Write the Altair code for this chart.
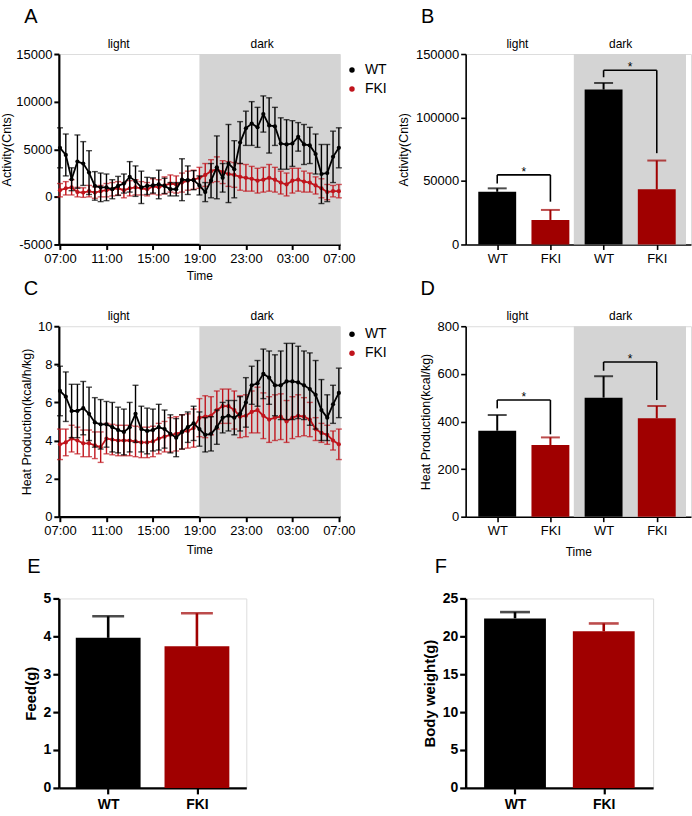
import altair as alt
import pandas as pd

FONT = "Liberation Sans"
BLACK = "#000000"
RED_LINE = "#c0141c"
RED_BAR = "#a00000"
SHADE = "#d4d4d4"

# ---------------- data ----------------
hours = [i * 0.5 for i in range(49)]  # 07:00 -> 07:00 next day, 30-min bins

act_wt = [5150, 4400, 1850, 3700, 3500, 2550, 1150, 1000, 1000, 800, 1150, 1400,
          2100, 1650, 1000, 1150, 1200, 1300, 1150, 800, 800, 1800, 1750, 1750,
          1200, 500, 1700, 3100, 2000, 3500, 2900, 5700, 7200, 7700, 7300, 8700,
          7500, 7400, 5600, 5500, 5600, 6300, 5500, 5400, 4500, 2400, 2500, 4200, 5150]
act_wt_err = [2100, 2200, 1200, 2800, 2300, 2300, 1500, 1500, 1400, 1000, 1000, 1000,
              1600, 1600, 1700, 900, 800, 1500, 800, 700, 700, 2200, 1500, 1000,
              1000, 1000, 1800, 3300, 1500, 4100, 3000, 2200, 1800, 2300, 2100, 1900,
              2900, 2000, 2700, 2600, 2400, 1500, 2100, 1900, 2100, 3100, 3000, 2700, 2100]
act_fki = [700, 900, 1000, 500, 450, 600, 450, 600, 700, 800, 900, 700,
           900, 1000, 900, 800, 1100, 1000, 1200, 1400, 1300, 1500, 1700, 1800,
           2000, 2300, 2700, 2900, 2600, 2400, 2300, 2100, 2000, 1900, 1700, 1800,
           2000, 1800, 1500, 1300, 1700, 1800, 1600, 1500, 1200, 900, 500, 600, 600]
act_fki_err = [700, 700, 800, 500, 500, 600, 600, 600, 700, 700, 700, 800,
               800, 800, 700, 700, 800, 800, 900, 900, 900, 1000, 1000, 1000,
               1100, 1200, 1200, 1300, 1200, 1300, 1300, 1400, 1400, 1300, 1300, 1300,
               1400, 1300, 1200, 1200, 1300, 1200, 1100, 1000, 900, 1000, 800, 600, 700]

heat_wt = [6.6, 6.3, 5.55, 5.55, 5.7, 5.4, 4.95, 4.85, 4.85, 4.7, 4.55, 4.45,
           4.7, 5.4, 4.6, 4.5, 4.55, 4.7, 4.6, 4.35, 4.15, 4.45, 4.7, 4.9,
           4.6, 4.3, 4.35, 4.7, 5.2, 5.3, 5.2, 5.4, 6.0, 6.9, 7.0, 7.5,
           7.3, 6.9, 6.9, 7.1, 7.1, 7.05, 6.9, 6.7, 6.4, 5.6, 5.2, 5.9, 6.5]
heat_wt_err = [1.3, 1.3, 1.4, 1.4, 1.4, 1.4, 1.3, 1.3, 1.2, 1.3, 1.2, 1.2,
               1.3, 1.5, 1.2, 1.2, 1.1, 1.2, 1.0, 1.0, 1.0, 0.9, 0.8, 0.9,
               0.9, 0.9, 0.9, 0.9, 0.8, 0.8, 0.9, 0.9, 1.3, 1.0, 1.2, 1.3,
               1.4, 1.6, 1.8, 2.0, 2.0, 1.9, 1.8, 1.9, 1.8, 1.6, 1.2, 1.0, 1.3]
heat_fki = [3.8, 3.9, 4.1, 4.0, 3.85, 3.85, 3.75, 3.65, 4.1, 4.05, 4.0, 4.0,
            4.0, 3.95, 3.9, 3.9, 3.95, 4.1, 4.2, 4.3, 4.35, 4.45, 4.5, 4.65,
            5.2, 5.25, 5.3, 5.6, 5.8, 5.8, 5.6, 5.25, 5.3, 5.5, 5.6, 5.3,
            5.1, 5.2, 5.25, 5.0, 5.2, 5.3, 5.25, 5.1, 4.6, 4.4, 4.3, 4.0, 3.8]
heat_fki_err = [0.8, 0.7, 0.7, 0.7, 0.7, 0.7, 0.7, 0.8, 0.8, 0.8, 0.8, 0.8,
                0.8, 0.8, 0.8, 0.8, 0.8, 0.8, 0.8, 0.9, 0.9, 0.9, 0.9, 1.0,
                1.0, 1.1, 1.0, 1.0, 0.9, 0.9, 1.0, 1.1, 1.1, 1.1, 1.2, 1.2,
                1.2, 1.2, 1.2, 1.1, 1.1, 1.1, 1.0, 0.9, 0.6, 0.5, 0.5, 0.5, 0.8]

bar_groups = ["WT", "FKI", "WT", "FKI"]
bar_phases = ["light", "light", "dark", "dark"]
act_bar = [41500, 19300, 122000, 43400]
act_bar_err = [2700, 7900, 5200, 22700]
act_sig_level = [54800, 137200]
act_sig_left = [48000, 131700]
act_sig_right = [33700, 71900]

heat_bar = [361, 301, 500, 413]
heat_bar_err = [66, 32, 90, 52]
heat_sig_level = [490, 650]
heat_sig_left = [455, 613]
heat_sig_right = [346, 490]

two_groups = ["WT", "FKI"]
feed = [3.96, 3.74]
feed_err = [0.57, 0.87]
body_weight = [22.37, 20.66]
body_weight_err = [0.83, 1.04]


def ax(**kw):
    base = dict(labelFont=FONT, titleFont=FONT, labelColor=BLACK, titleColor=BLACK,
                domainColor=BLACK, tickColor=BLACK, grid=False)
    base.update(kw)
    return alt.Axis(**base)


def text_layer(txt, size, x, y, align="center", weight="normal", baseline="middle"):
    return alt.Chart(pd.DataFrame({"t": [txt]})).mark_text(
        fontSize=size, font=FONT, align=align, baseline=baseline, fontWeight=weight,
        color=BLACK).encode(text="t:N", x=x, y=y)


def ts_panel(wt, wt_err, fki, fki_err, ydom, yvals, ytitle, letter, legend_y,
             ytitle_pad, xtitle_pad):
    xs = alt.Scale(domain=[-0.1, 24.1], nice=False, zero=False)
    ys = alt.Scale(domain=ydom, nice=False, zero=False)
    xaxis = ax(values=[0, 4, 8, 12, 16, 20, 24],
               labelExpr="(((datum.value + 7) % 24) < 10 ? '0' : '') + ((datum.value + 7) % 24) + ':00'",
               title="Time", titleFontSize=12, titleFontWeight="normal", labelFontSize=13,
               domainWidth=2.2, tickWidth=2, tickSize=5, labelPadding=3, titlePadding=xtitle_pad,
               labelFlush=False)
    yaxis = ax(values=yvals, labelExpr="'' + datum.value", title=ytitle,
               titleFontSize=12.5, titleFontWeight="normal", labelFontSize=13,
               domainWidth=2.2, tickWidth=2, tickSize=5, labelPadding=2, titlePadding=ytitle_pad)

    def X(f):
        return alt.X(f, type="quantitative", scale=xs, axis=xaxis)

    def Y(f):
        return alt.Y(f, type="quantitative", scale=ys, axis=yaxis)

    shade_df = pd.DataFrame({"x0": [12], "x1": [24.1], "y0": [ydom[0]], "y1": [ydom[1]]})
    layers = [alt.Chart(shade_df).mark_rect(color=SHADE).encode(
        x=X("x0"), x2="x1", y=Y("y0"), y2="y1")]

    for vals, errs, col in [(fki, fki_err, RED_LINE), (wt, wt_err, BLACK)]:
        df = pd.DataFrame({"hour": hours, "value": vals,
                           "lo": [v - e for v, e in zip(vals, errs)],
                           "hi": [v + e for v, e in zip(vals, errs)]})
        base = alt.Chart(df)
        layers += [
            base.mark_rule(color=col, strokeWidth=1.4).encode(x=X("hour"), y=Y("lo"), y2="hi"),
            base.mark_tick(color=col, orient="horizontal", size=6, thickness=1.4).encode(x=X("hour"), y=Y("hi")),
            base.mark_tick(color=col, orient="horizontal", size=6, thickness=1.4).encode(x=X("hour"), y=Y("lo")),
            base.mark_line(color=col, strokeWidth=1.8).encode(x=X("hour"), y=Y("value")),
            base.mark_circle(color=col, size=18, opacity=1).encode(x=X("hour"), y=Y("value")),
        ]

    phase_df = pd.DataFrame({"label": ["light", "dark"], "pos": [5.05, 17.4]})
    layers.append(alt.Chart(phase_df).mark_text(fontSize=12, font=FONT, color=BLACK, baseline="middle").encode(
        x=X("pos"), y=alt.value(-10), text="label:N"))

    # legend
    for name, col, dy in [("WT", BLACK, 0), ("FKI", RED_LINE, 19)]:
        layers.append(alt.Chart(pd.DataFrame({"t": [name]})).mark_circle(color=col, size=30, opacity=1).encode(
            x=alt.value(294), y=alt.value(legend_y + dy)))
        layers.append(text_layer(name, 14, alt.value(307), alt.value(legend_y + dy), align="left"))

    layers.append(text_layer(letter, 20, alt.value(-28), alt.value(-37)))
    return alt.layer(*layers).properties(width=282, height=191)


def bar_panel(vals, errs, sig_level, sig_left, sig_right, ydom, yvals, ytitle, letter, xtitle):
    xs = alt.Scale(domain=[0.5, 4.55], nice=False, zero=False)
    ys = alt.Scale(domain=ydom, nice=False, zero=False)
    xaxis = ax(values=[1, 2, 3, 4], labelExpr="datum.value % 2 == 1 ? 'WT' : 'FKI'",
               title=xtitle, titleFontSize=12, titleFontWeight="normal", labelFontSize=13,
               domainWidth=1.6, tickWidth=1.6, tickSize=5, labelPadding=3, titlePadding=9)
    yaxis = ax(values=yvals, format="d", title=ytitle, titleFontSize=12.5, titleFontWeight="normal",
               labelFontSize=13, domainWidth=1.6, tickWidth=1.6, tickSize=5, labelPadding=2, titlePadding=5)

    def X(f):
        return alt.X(f, type="quantitative", scale=xs, axis=xaxis)

    def Y(f):
        return alt.Y(f, type="quantitative", scale=ys, axis=yaxis)

    color = alt.Color("grp:N", scale=alt.Scale(domain=["WT", "FKI"], range=[BLACK, RED_BAR]), legend=None)
    df = pd.DataFrame({"pos": [1, 2, 3, 4], "grp": bar_groups, "phase": bar_phases, "value": vals,
                       "top": [v + e for v, e in zip(vals, errs)]})
    shade_df = pd.DataFrame({"x0": [2.44], "x1": [4.55], "y0": [ydom[0]], "y1": [ydom[1]]})
    seg = []
    for (a, b), lv, l, r in zip([(1, 2), (3, 4)], sig_level, sig_left, sig_right):
        seg += [dict(x=a, x2=b, y=lv, y2=lv), dict(x=a, x2=a, y=lv, y2=l), dict(x=b, x2=b, y=lv, y2=r)]
    seg_df = pd.DataFrame(seg)
    star_df = pd.DataFrame({"x": [1.5, 3.5], "y": sig_level, "t": ["*", "*"]})
    base = alt.Chart(df)
    layers = [
        alt.Chart(shade_df).mark_rect(color=SHADE).encode(x=X("x0"), x2="x1", y=Y("y0"), y2="y1"),
        base.mark_rule(strokeWidth=2).encode(x=X("pos"), y=Y("value"), y2="top", color=color),
        base.mark_tick(orient="horizontal", size=19, thickness=2).encode(x=X("pos"), y=Y("top"), color=color),
        base.mark_bar(size=38).encode(x=X("pos"), y=Y("value"), color=color),
        alt.Chart(seg_df).mark_rule(color=BLACK, strokeWidth=1.6).encode(x=X("x"), x2="x2", y=Y("y"), y2="y2"),
        alt.Chart(star_df).mark_text(fontSize=12, font=FONT, color=BLACK, baseline="middle", dy=-3).encode(
            x=X("x"), y=Y("y"), text="t:N"),
    ]
    phase_df = pd.DataFrame({"label": ["light", "dark"], "pos": [1.38, 3.32]})
    layers.append(alt.Chart(phase_df).mark_text(fontSize=12, font=FONT, color=BLACK, baseline="middle").encode(
        x=X("pos"), y=alt.value(-10), text="label:N"))
    layers.append(text_layer(letter, 20, alt.value(-38), alt.value(-37)))
    return alt.layer(*layers).properties(width=226, height=191)


def small_bar(vals, errs, ydom, yvals, ytitle, letter, bar_w, cap_w):
    xs = alt.Scale(domain=[0.5, 2.5], nice=False, zero=False)
    ys = alt.Scale(domain=ydom, nice=False, zero=False)
    xaxis = ax(values=[1, 2], labelExpr="datum.value == 1 ? 'WT' : 'FKI'", title=None,
               labelFontSize=14, labelFontWeight="bold", domainWidth=2.4, tickWidth=2.2,
               tickSize=6, labelPadding=4)
    yaxis = ax(values=yvals, format="d", title=ytitle, titleFontSize=15, titleFontWeight="bold",
               labelFontSize=14, labelFontWeight="bold", domainWidth=2.4, tickWidth=2.2,
               tickSize=6, labelPadding=2, titlePadding=5)

    def X(f):
        return alt.X(f, type="quantitative", scale=xs, axis=xaxis)

    def Y(f):
        return alt.Y(f, type="quantitative", scale=ys, axis=yaxis)

    color = alt.Color("grp:N", scale=alt.Scale(domain=["WT", "FKI"], range=[BLACK, RED_BAR]), legend=None)
    df = pd.DataFrame({"pos": [1, 2], "grp": two_groups, "value": vals,
                       "top": [v + e for v, e in zip(vals, errs)]})
    base = alt.Chart(df)
    layers = [
        base.mark_rule(strokeWidth=2.6).encode(x=X("pos"), y=Y("value"), y2="top", color=color),
        base.mark_tick(orient="horizontal", size=cap_w, thickness=2.6).encode(x=X("pos"), y=Y("top"), color=color),
        base.mark_bar(size=bar_w).encode(x=X("pos"), y=Y("value"), color=color),
        text_layer(letter, 20, alt.value(-25), alt.value(-32)),
    ]
    return alt.layer(*layers).properties(width=188, height=190)


pA = ts_panel(act_wt, act_wt_err, act_fki, act_fki_err, [-5000, 15000],
              [-5000, 0, 5000, 10000, 15000], "Activity(Cnts)", "A", 16, 2, 5)
pB = bar_panel(act_bar, act_bar_err, act_sig_level, act_sig_left, act_sig_right,
               [0, 150000], [0, 50000, 100000, 150000], "Activity(Cnts)", "B", None)
pC = ts_panel(heat_wt, heat_wt_err, heat_fki, heat_fki_err, [0, 10],
              [0, 2, 4, 6, 8, 10], "Heat Production(kcal/h/kg)", "C", 8, 4, 7)
pD = bar_panel(heat_bar, heat_bar_err, heat_sig_level, heat_sig_left, heat_sig_right,
               [0, 800], [0, 200, 400, 600, 800], "Heat Production(kcal/kg)", "D", "Time")
pE = small_bar(feed, feed_err, [0, 5], [0, 1, 2, 3, 4, 5], "Feed(g)", "E", 65, 32)
pF = small_bar(body_weight, body_weight_err, [0, 25], [0, 5, 10, 15, 20, 25], "Body weight(g)", "F", 62, 30)

chart = alt.concat(pA, pB, pC, pD, pE, pF, columns=2, spacing={"row": 82, "column": 126},
                   bounds="flush").properties(
    padding={"left": 0, "top": 5, "right": 0, "bottom": 0}
).configure_view(stroke=None).configure(font=FONT, background="white")

chart.save("out.html", embed_options={"renderer": "svg", "actions": False})
